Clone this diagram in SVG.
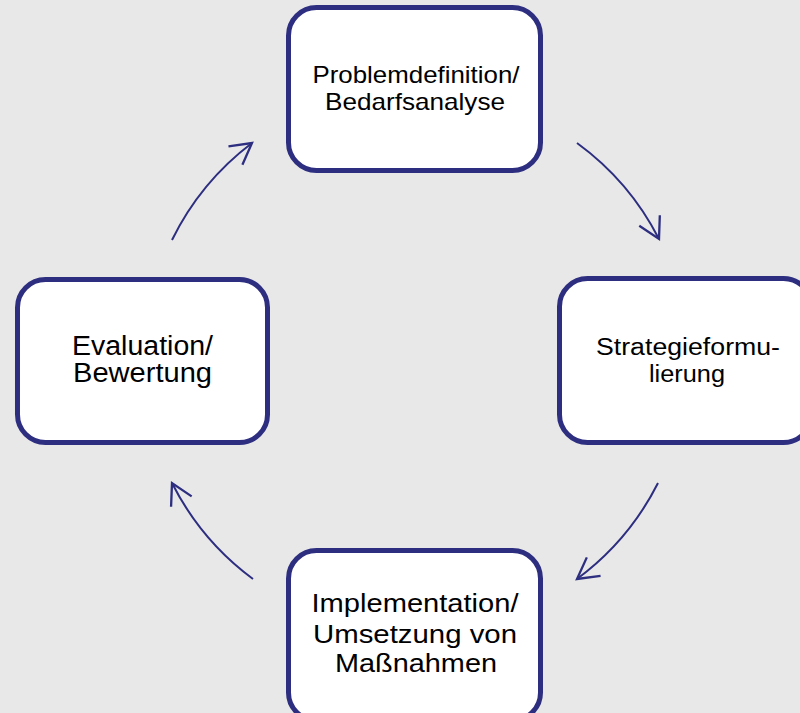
<svg xmlns="http://www.w3.org/2000/svg" width="800" height="713" viewBox="0 0 800 713">
<defs>
<style>
.box{fill:#ffffff;stroke:#2d2e80;stroke-width:5}
.t{font-family:"Liberation Sans",Arial,sans-serif;fill:#000000;text-anchor:middle}
.c{fill:none;stroke:#2d2e80;stroke-width:2}
</style>
<marker id="ah" markerUnits="userSpaceOnUse" markerWidth="30" markerHeight="30" viewBox="-22 -13 26 26" refX="0" refY="0" orient="auto">
<path d="M-18,-10 L0,0 L-18,10" fill="none" stroke="#2d2e80" stroke-width="2" stroke-linejoin="miter"/>
</marker>
</defs>
<rect width="800" height="713" fill="#e8e8e8"/>
<g id="connectors">
<path class="c" d="M577,143 A272,272 0 0,1 659,239" marker-end="url(#ah)"/>
<path class="c" d="M658,483 A272,272 0 0,1 577,579" marker-end="url(#ah)"/>
<path class="c" d="M253,579 A272,272 0 0,1 172,483" marker-end="url(#ah)"/>
<path class="c" d="M172,240 A272,272 0 0,1 252,143" marker-end="url(#ah)"/>
</g>
<g id="node-problem">
<rect class="box" x="288.5" y="7.5" width="252" height="163" rx="28"/>
<text class="t" font-size="24" x="416" y="83" textLength="207" lengthAdjust="spacingAndGlyphs">Problemdefinition/</text>
<text class="t" font-size="24" x="415" y="110" textLength="180" lengthAdjust="spacingAndGlyphs">Bedarfsanalyse</text>
</g>
<g id="node-strategie">
<rect class="box" x="559.5" y="278.5" width="252" height="164" rx="28"/>
<text class="t" font-size="23.5" x="688" y="355" textLength="184" lengthAdjust="spacingAndGlyphs">Strategieformu-</text>
<text class="t" font-size="23.5" x="687" y="382" textLength="76" lengthAdjust="spacingAndGlyphs">lierung</text>
</g>
<g id="node-implementation">
<rect class="box" x="288.5" y="550.5" width="252" height="170" rx="28"/>
<text class="t" font-size="26.5" x="415" y="612" textLength="207" lengthAdjust="spacingAndGlyphs">Implementation/</text>
<text class="t" font-size="26.5" x="415" y="643" textLength="204" lengthAdjust="spacingAndGlyphs">Umsetzung von</text>
<text class="t" font-size="26.5" x="416" y="672" textLength="162" lengthAdjust="spacingAndGlyphs">Maßnahmen</text>
</g>
<g id="node-evaluation">
<rect class="box" x="17.5" y="279.5" width="250" height="163" rx="28"/>
<text class="t" font-size="27" x="142.5" y="355" textLength="141" lengthAdjust="spacingAndGlyphs">Evaluation/</text>
<text class="t" font-size="27" x="142.5" y="382" textLength="139" lengthAdjust="spacingAndGlyphs">Bewertung</text>
</g>
</svg>
